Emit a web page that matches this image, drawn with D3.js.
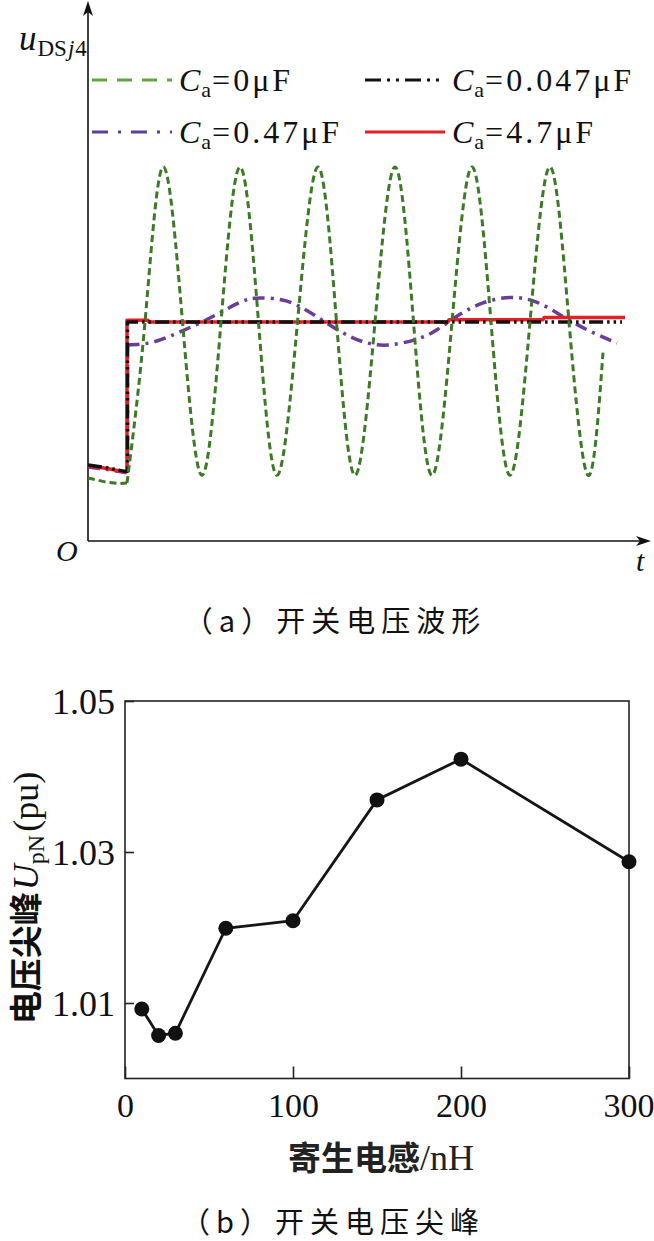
<!DOCTYPE html>
<html><head><meta charset="utf-8">
<script src="https://cdn.jsdelivr.net/npm/d3@7"></script>
<style>
html,body{margin:0;padding:0;background:#fff;}
svg{display:block;}
</style></head>
<body>
<svg id="c" width="654" height="1241"></svg>
<script>
// ---------- (a) switching voltage waveform (normalised units: t arbitrary, u per-unit of step level) ----------
const greenPre = [[0,0.288],[3.4,0.270],[6.2,0.262],[7.8,0.265]];
const greenOsc = [[7.8,0.265],[11.4,1.0],[15,1.708],[18.9,1.0],[22.8,0.30],[26.6,1.0],[30.4,1.708],[34.1,1.0],[37.8,0.30],[41.9,1.0],[46,1.708],[49.7,1.0],[53.4,0.30],[57.4,1.0],[61.4,1.708],[65.1,1.0],[68.8,0.30],[72.8,1.0],[76.8,1.708],[80.6,1.0],[84.4,0.30],[88.4,1.0],[92.4,1.708],[96.2,1.0],[100,0.30],[103,0.86]];
const purplePre = [[0,0.338],[3.6,0.328],[7.4,0.313],[7.9,0.313],[7.9,0.895]];
const purplePost = [[7.9,0.895],[12.4,0.905],[16.4,0.935],[20.4,0.975],[25.4,1.03],[30.4,1.09],[34.4,1.11],[39.8,1.095],[45,1.035],[50.4,0.958],[55,0.91],[60,0.895],[65.8,0.922],[69.8,0.965],[74.4,1.035],[79,1.087],[84.4,1.112],[89.8,1.09],[95,1.025],[100.4,0.958],[105.8,0.904]];
const blackSeries = [[0,0.347],[3.6,0.335],[7.4,0.318],[7.9,0.318],[7.9,1.0],[106.8,1.0]];
const redSeries = [[0,0.342],[3.6,0.332],[7.4,0.315],[7.8,0.318],[7.8,1.008],[12,1.008],[12.2,1.0],[72,1.0],[72.2,1.01],[91,1.01],[91.2,1.02],[107.4,1.02]];
const legendLabels = ["0μF","0.047μF","0.47μF","4.7μF"];

// ---------- (b) switching voltage spike ----------
const inductance = [10,20,30,60,100,150,200,300];
const spike = [1.0092,1.0057,1.0060,1.0199,1.0209,1.0369,1.0423,1.0287];
const xTicksB = [0,100,200,300];
const yTicksB = [1.01,1.03,1.05];

const svg = d3.select("#c");
const serif = "'Liberation Serif','Times New Roman',serif";
const cjk = "'Noto Sans CJK SC','Noto Sans CJK JP',sans-serif";

// ===== chart (a) =====
const xa = d3.scaleLinear().domain([0,112]).range([88,648]);
const ya = d3.scaleLinear().domain([0,541/219]).range([541,0]);
const gA = svg.append("g");

gA.append("line").attr("x1",xa(0)).attr("x2",xa(0)).attr("y1",ya(0)).attr("y2",12)
  .attr("stroke","#111").attr("stroke-width",1.6);
gA.append("path").attr("d",`M${xa(0)},1 L${xa(0)-5},16 L${xa(0)},12 L${xa(0)+5},16 Z`).attr("fill","#111");
gA.append("line").attr("x1",xa(0)).attr("x2",640).attr("y1",ya(0)).attr("y2",ya(0))
  .attr("stroke","#111").attr("stroke-width",1.6);
gA.append("path").attr("d",`M651,${ya(0)} L636,${ya(0)-5} L640,${ya(0)} L636,${ya(0)+5} Z`).attr("fill","#111");

const lineLin = d3.line().x(d=>xa(d[0])).y(d=>ya(d[1]));
const lineNat = d3.line().x(d=>xa(d[0])).y(d=>ya(d[1])).curve(d3.curveNatural);

const styles = {
  green:{stroke:"#3d7a27", w:3, dash:"7,4"},
  purple:{stroke:"#6a3d9a", w:3.5, dash:"12,6,3,6"},
  black:{stroke:"#111111", w:3.5, dash:"14,4,2.5,4,2.5,4"},
  red:{stroke:"#e41f26", w:3.5, dash:null}
};
function drawPath(g, data, gen, s){
  const p = g.append("path").attr("d",gen(data)).attr("fill","none")
   .attr("stroke",s.stroke).attr("stroke-width",s.w).attr("stroke-linejoin","round");
  if(s.dash) p.attr("stroke-dasharray",s.dash);
  return p;
}
drawPath(gA, purplePre, lineLin, styles.purple);
drawPath(gA, purplePost, lineNat, styles.purple);
drawPath(gA, redSeries, lineLin, styles.red);
drawPath(gA, blackSeries, lineLin, styles.black);
drawPath(gA, greenPre, lineLin, styles.green);
drawPath(gA, greenOsc, lineNat, styles.green);

// y label u_DSj4
const ul = gA.append("text").attr("x",19).attr("y",50).attr("font-family",serif).attr("fill","#111");
ul.append("tspan").attr("font-style","italic").attr("font-size",35).text("u");
ul.append("tspan").attr("font-size",23).attr("dy",6).attr("dx",1).text("DS");
ul.append("tspan").attr("font-size",23).attr("font-style","italic").attr("dx",1).text("j");
ul.append("tspan").attr("font-size",23).attr("dx",1).text("4");

gA.append("text").attr("x",56).attr("y",561).attr("font-family",serif).attr("font-style","italic")
  .attr("font-size",30).attr("fill","#111").text("O");
gA.append("text").attr("x",636).attr("y",571).attr("font-family",serif).attr("font-style","italic")
  .attr("font-size",30).attr("fill","#111").text("t");

// legend
const legendItems = [
  {legStroke:"#5ea53a", legDash:"15,10", x:92, y:80, lab:legendLabels[0]},
  {legStroke:"#111", legDash:"16,6,3,6,3,6", x:365, y:80, lab:legendLabels[1]},
  {legStroke:"#5b3f9c", legDash:"16,10,3,10", x:92, y:132, lab:legendLabels[2]},
  {legStroke:"#e41f26", legDash:null, x:365, y:132, lab:legendLabels[3]}
];
legendItems.forEach(it=>{
  const l = gA.append("line").attr("x1",it.x).attr("x2",it.x+80).attr("y1",it.y).attr("y2",it.y)
   .attr("stroke",it.legStroke).attr("stroke-width",3);
  if(it.legDash) l.attr("stroke-dasharray", it.legDash);
  const t = gA.append("text").attr("x",it.x+87).attr("y",it.y+11).attr("font-family",serif)
    .attr("font-size",32).attr("fill","#111");
  t.append("tspan").attr("font-style","italic").text("C");
  t.append("tspan").attr("font-size",22).attr("dy",6).attr("dx",1).text("a");
  t.append("tspan").attr("dy",-6).attr("dx",1).attr("letter-spacing",3).text("="+it.lab);
});

// caption (a)
svg.append("text").attr("x",335).attr("y",632).attr("text-anchor","middle").attr("font-family",cjk)
  .attr("font-size",29).attr("letter-spacing",6).attr("fill","#111").text("（a）开关电压波形");

// ===== chart (b) =====
const xb = d3.scaleLinear().domain([0,300]).range([125,629]);
const yb = d3.scaleLinear().domain([1.0,1.05]).range([1078.5,701]);
const gB = svg.append("g");

gB.append("rect").attr("x",xb(0)).attr("y",yb(1.05)).attr("width",xb(300)-xb(0)).attr("height",yb(1.0)-yb(1.05))
  .attr("fill","none").attr("stroke","#222").attr("stroke-width",1.6);

const axL = d3.axisLeft(yb).tickValues(yTicksB).tickFormat(d3.format(".2f")).tickSizeInner(-9).tickSizeOuter(0).tickPadding(10);
const gL = gB.append("g").attr("transform",`translate(${xb(0)},0)`).call(axL);
const axBt = d3.axisBottom(xb).tickValues(xTicksB).tickFormat(d3.format("d")).tickSizeInner(-12).tickSizeOuter(0).tickPadding(10);
const gX = gB.append("g").attr("transform",`translate(0,${yb(1.0)})`).call(axBt);
[gL,gX].forEach(g=>{
  g.select(".domain").remove();
  g.selectAll("line").attr("stroke","#222").attr("stroke-width",1.6);
  g.selectAll("text").attr("font-family",serif).attr("fill","#111");
});
gL.selectAll("text").attr("font-size",36).attr("dy","0.35em");
gX.selectAll("text").attr("font-size",34).attr("dy","0.85em");
gX.selectAll(".tick").filter(d=>d===300).select("text").attr("text-anchor","end").attr("dx",25);

const pts = inductance.map((v,i)=>[v,spike[i]]);
gB.append("path").attr("d",d3.line().x(d=>xb(d[0])).y(d=>yb(d[1]))(pts))
  .attr("fill","none").attr("stroke","#151515").attr("stroke-width",2.8);
gB.selectAll("circle.pt").data(pts).join("circle").attr("class","pt")
  .attr("cx",d=>xb(d[0])).attr("cy",d=>yb(d[1])).attr("r",7.5).attr("fill","#111");

// y label
const yl = gB.append("text").attr("transform","translate(38,898) rotate(-90)").attr("text-anchor","middle").attr("fill","#111");
yl.append("tspan").attr("font-family",cjk).attr("font-weight","bold").attr("font-size",33).text("电压尖峰");
yl.append("tspan").attr("font-family",serif).attr("font-style","italic").attr("font-size",36).attr("dx",2).text("U");
yl.append("tspan").attr("font-family",serif).attr("font-size",24).attr("dy",6).text("pN");
yl.append("tspan").attr("font-family",serif).attr("font-size",36).attr("dy",-6).attr("dx",3).text("(pu)");

// x label
const xl = gB.append("text").attr("x",381).attr("y",1170).attr("text-anchor","middle").attr("fill","#222");
xl.append("tspan").attr("font-family",cjk).attr("font-weight","bold").attr("font-size",33).text("寄生电感");
xl.append("tspan").attr("font-family",serif).attr("font-size",36).text("/nH");

svg.append("text").attr("x",333).attr("y",1233).attr("text-anchor","middle").attr("font-family",cjk)
  .attr("font-size",29).attr("letter-spacing",6).attr("fill","#111").text("（b）开关电压尖峰");
</script>
</body></html>
